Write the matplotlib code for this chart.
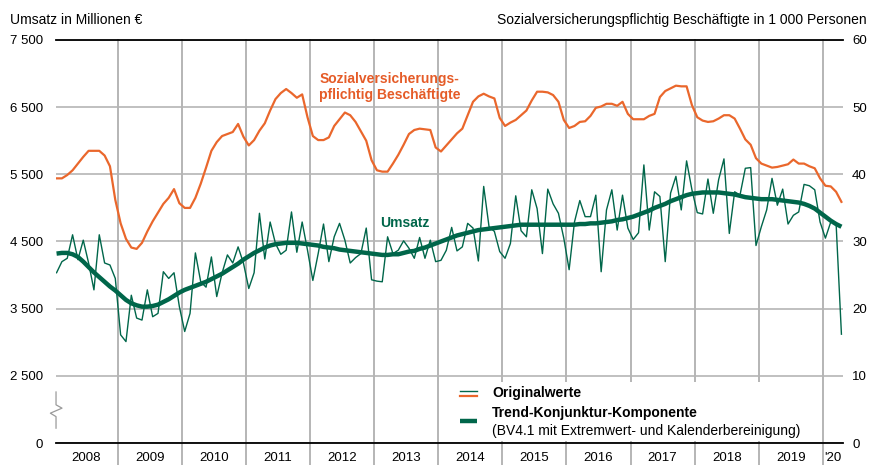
import numpy as np
import matplotlib
matplotlib.use("Agg")
import matplotlib.pyplot as plt
from matplotlib.patches import Rectangle

plt.rcParams['font.family'] = ['Liberation Sans', 'DejaVu Sans']

# monthly values, Jan 2008 - Apr 2020
years = ['2008', '2009', '2010', '2011', '2012', '2013', '2014',
         '2015', '2016', '2017', '2018', '2019', "'20"]

# Umsatz in Mio EUR (Originalwerte)
umsatz = [
    4035, 4200, 4250, 4600, 4230, 4520, 4180, 3780, 4600, 4180, 4150, 3950,
    3110, 3010, 3700, 3360, 3330, 3780, 3380, 3430, 4050, 3950, 4035, 3530,
    3160, 3430, 4330, 3900, 3820, 4270, 3680, 4030, 4300, 4180, 4420, 4180,
    3800, 4035, 4920, 4240, 4790, 4470, 4310, 4370, 4940, 4340, 4790, 4370,
    3920, 4320, 4760, 4200, 4570, 4770, 4520, 4180, 4260, 4320, 4700, 3930,
    3910, 3900, 4570, 4320, 4370, 4510, 4400, 4250, 4560, 4250, 4520, 4200,
    4220, 4370, 4710, 4360, 4420, 4770, 4700, 4210, 5320, 4720, 4650, 4350,
    4250, 4470, 5180, 4660, 4570, 5270, 4990, 4320, 5280, 5060, 4920, 4550,
    4080, 4790, 5110, 4870, 4870, 5190, 4050, 4970, 5270, 4670, 5190, 4700,
    4530, 4630, 5640, 4670, 5240, 5170, 4200, 5220, 5470, 4970, 5700, 5270,
    4930, 4910, 5430, 4920, 5420, 5730, 4620, 5240, 5190, 5590, 5600, 4440,
    4720, 4970, 5440, 5040, 5280, 4760, 4890, 4940, 5350, 5330, 5270, 4790,
    4550, 4790, 4770, 3120,
]

# Umsatz, Trend-Konjunktur-Komponente
trend = [
    4320, 4330, 4330, 4310, 4270, 4200, 4120, 4040, 3970, 3900, 3830, 3770,
    3700, 3630, 3580, 3550, 3530, 3530, 3540, 3560, 3600, 3640, 3690, 3740,
    3780, 3810, 3840, 3870, 3900, 3940, 3980, 4020, 4070, 4120, 4170, 4230,
    4280, 4330, 4370, 4410, 4440, 4460, 4470, 4480, 4480, 4480, 4470, 4460,
    4450, 4440, 4420, 4410, 4400, 4380, 4370, 4360, 4350, 4340, 4330, 4320,
    4310, 4300, 4300, 4310, 4310, 4330, 4350, 4360, 4390, 4410, 4440, 4470,
    4500, 4530, 4560, 4590, 4610, 4630, 4650, 4670, 4680, 4690, 4700, 4710,
    4720, 4730, 4740, 4750, 4750, 4750, 4750, 4750, 4750, 4750, 4750, 4750,
    4750, 4750, 4760, 4760, 4770, 4770, 4780, 4790, 4800, 4820, 4830, 4850,
    4870, 4900, 4930, 4960, 5000, 5030, 5060, 5100, 5130, 5160, 5190, 5210,
    5220, 5230, 5230, 5230, 5230, 5220, 5210, 5200, 5180, 5160, 5150, 5140,
    5130, 5130, 5130, 5120, 5110, 5100, 5090, 5080, 5060, 5030, 4990, 4930,
    4870, 4810, 4760, 4720,
]

# Sozialversicherungspflichtig Beschaeftigte in 1 000 Personen
beschaeftigte = [
    39.4, 39.4, 39.9, 40.6, 41.6, 42.6, 43.5, 43.5, 43.5, 42.8, 41.2, 36.2,
    32.7, 30.4, 29.1, 28.9, 29.8, 31.5, 33.0, 34.3, 35.6, 36.5, 37.8, 35.7,
    35.0, 35.0, 36.5, 38.6, 41.0, 43.5, 44.8, 45.7, 46.0, 46.3, 47.5, 45.6,
    44.3, 45.1, 46.5, 47.6, 49.5, 51.2, 52.1, 52.7, 52.1, 51.4, 51.9, 48.5,
    45.7, 45.1, 45.1, 45.5, 47.2, 48.2, 49.2, 48.8, 47.8, 46.4, 45.0, 42.1,
    40.6, 40.4, 40.4, 41.6, 42.9, 44.4, 46.0, 46.6, 46.8, 46.7, 46.6, 44.0,
    43.4, 44.3, 45.2, 46.1, 46.8, 48.8, 50.8, 51.6, 52.0, 51.6, 51.3, 48.4,
    47.2, 47.7, 48.1, 48.8, 49.5, 51.0, 52.3, 52.3, 52.2, 51.8, 50.8, 48.1,
    46.9, 47.2, 47.8, 47.9, 48.7, 49.9, 50.1, 50.5, 50.5, 50.2, 50.8, 49.0,
    48.2, 48.2, 48.2, 48.7, 49.0, 51.5, 52.4, 52.8, 53.2, 53.1, 53.1, 50.3,
    48.5, 48.0, 47.8, 47.9, 48.3, 48.8, 48.8, 48.3, 46.8, 45.2, 44.4, 42.4,
    41.6, 41.3, 41.0, 41.1, 41.3, 41.5, 42.2, 41.6, 41.6, 41.2, 40.9, 39.4,
    38.3, 38.2, 37.4, 35.9,
]

left_ticks = [0, 2500, 3500, 4500, 5500, 6500, 7500]
left_labels = ['0', '2 500', '3 500', '4 500', '5 500', '6 500', '7 500']
right_ticks = [0, 10, 20, 30, 40, 50, 60]

ORANGE = '#EA672C'
GREEN = '#00664A'
GRID = '#b5b5b5'


# broken axis: 0..2500 squeezed into the lowest band
def fwd(u):
    u = np.asarray(u, dtype=float)
    return np.where(u < 2500, u / 250.0, 10 + (u - 2500) / 100.0)


def inv(v):
    v = np.asarray(v, dtype=float)
    return np.where(v < 10, v * 250.0, 2500 + (v - 10) * 100.0)


months = np.arange(len(umsatz))

fig = plt.figure(figsize=(8.7, 4.65), dpi=100)
ax = fig.add_axes([0.0644, 0.0473, 0.9046, 0.8667])
ax.set_yscale('function', functions=(fwd, inv))
ax.set_ylim(0, 7500)
ax.set_xlim(-0.1, 147.3)

ax.plot(months, umsatz, color=GREEN, lw=1.0, zorder=3)
ax.plot(months, trend, color=GREEN, lw=3.2, solid_capstyle='butt', zorder=4)

ax.set_yticks(left_ticks)
ax.set_yticklabels(left_labels)
ax.tick_params(axis='y', length=0, pad=9.5, labelsize=9.5)
ax.grid(axis='y', color=GRID, lw=1.2)
ax.set_axisbelow(True)

# year boundaries, running down through the label row
for k in range(1, 13):
    ax.axvline(12 * k - 0.5, ymin=-0.055, ymax=1, color=GRID, lw=1.4,
               clip_on=False, zorder=0.5)

centers = [12 * k + 5.5 for k in range(12)] + [(143.5 + 147.3) / 2]
ax.set_xticks(centers)
ax.set_xticklabels(years)
ax.tick_params(axis='x', length=0, pad=6.5, labelsize=9.5)

for s in ['left', 'right']:
    ax.spines[s].set_visible(False)
ax.spines['top'].set_color('black')
ax.spines['bottom'].set_color('black')
ax.spines['top'].set_linewidth(1.3)
ax.spines['bottom'].set_linewidth(1.3)

ax2 = ax.twinx()
ax2.set_ylim(0, 60)
ax2.plot(months, beschaeftigte, color=ORANGE, lw=1.6, zorder=3)
ax2.set_yticks(right_ticks)
ax2.tick_params(axis='y', length=0, pad=6.5, labelsize=9.5)
for s in ax2.spines.values():
    s.set_visible(False)

# axis break marker
bx = [0, 0, 0.0076, -0.0072, 0, 0]
by = [0.1266, 0.0947, 0.0865, 0.0740, 0.0655, 0.0368]
ax.plot(bx, by, transform=ax.transAxes, color='#9a9a9a', lw=0.9,
        clip_on=False, zorder=5)

# series labels
ax2.text(0.424, 0.883, 'Sozialversicherungs-\npflichtig Beschäftigte',
         transform=ax2.transAxes, ha='center', va='center', color='#E55B27',
         fontsize=10, fontweight='bold', linespacing=1.2)
ax2.text(0.443, 0.546, 'Umsatz', transform=ax2.transAxes, ha='center',
         va='center', color=GREEN, fontsize=10, fontweight='bold')

# legend
ax2.add_patch(Rectangle((0.503, 0.006), 0.452, 0.145, transform=ax2.transAxes,
                        facecolor='white', edgecolor='none', zorder=6))
ax2.plot([0.513, 0.535], [0.130, 0.130], transform=ax2.transAxes,
         color=GREEN, lw=1.0, zorder=7)
ax2.plot([0.513, 0.535], [0.117, 0.117], transform=ax2.transAxes,
         color=ORANGE, lw=1.6, zorder=7)
ax2.plot([0.513, 0.535], [0.055, 0.055], transform=ax2.transAxes,
         color=GREEN, lw=3.2, solid_capstyle='butt', zorder=7)
ax2.text(0.554, 0.123, 'Originalwerte', transform=ax2.transAxes,
         va='center', ha='left', fontsize=10, fontweight='bold', zorder=7)
ax2.text(0.554, 0.074, 'Trend-Konjunktur-Komponente', transform=ax2.transAxes,
         va='center', ha='left', fontsize=10, fontweight='bold', zorder=7)
ax2.text(0.554, 0.030, '(BV4.1 mit Extremwert- und Kalenderbereinigung)',
         transform=ax2.transAxes, va='center', ha='left', fontsize=10,
         zorder=7)

fig.text(0.0115, 0.957, 'Umsatz in Millionen €', ha='left', va='center',
         fontsize=10)
fig.text(0.9965, 0.957,
         'Sozialversicherungspflichtig Beschäftigte in 1 000 Personen',
         ha='right', va='center', fontsize=10)

fig.savefig('out.png', dpi=100)
